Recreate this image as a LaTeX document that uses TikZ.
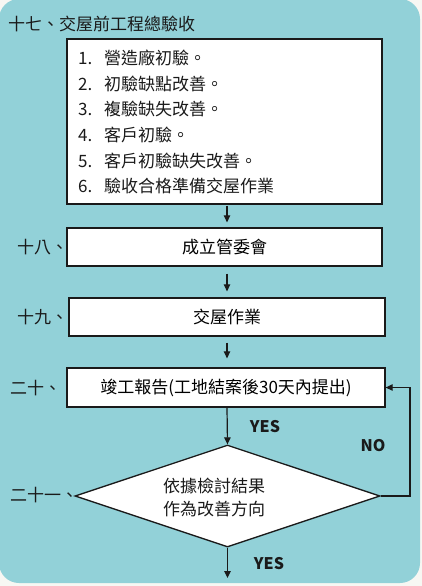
\documentclass[tikz,border=0pt]{standalone}
\usepackage{fontspec}
\setmainfont{Noto Sans CJK TC}
\usetikzlibrary{arrows.meta,shapes.geometric}
\definecolor{bgteal}{HTML}{92D1D8}
\definecolor{pagebg}{HTML}{F7F7F3}
\definecolor{ink}{HTML}{1A1A1A}
\tikzset{
  box/.style={draw=ink, line width=1.3pt, fill=white, inner sep=0pt},
  txt/.style={inner sep=0pt, text=ink},
  arr/.style={draw=ink, line width=1.2pt, -{Triangle[length=7pt,width=6.5pt]}},
  yn/.style={inner sep=0pt, text=ink, font=\fontsize{16}{18}\selectfont\bfseries},
}
\begin{document}
\begin{tikzpicture}[x=1pt,y=-1pt,font=\fontsize{17}{20}\selectfont]
\useasboundingbox (0,0) rectangle (422,586);
\fill[pagebg] (0,0) rectangle (422,586);
\fill[bgteal, rounded corners=20pt] (-1,-1) rectangle (420,583);

% title
\node[txt, anchor=west] (t17) at (8,24) {十七、交屋前工程總驗收};

% box 1
\node[box, minimum width=315, minimum height=165] (b1) at (224.5,121.5) {};
\node[txt, anchor=west] (i1) at (78,58) {\makebox[26pt][l]{1.}營造廠初驗。};
\node[txt, anchor=west] (i2) at (78,83.5) {\makebox[26pt][l]{2.}初驗缺點改善。};
\node[txt, anchor=west] (i3) at (78,109) {\makebox[26pt][l]{3.}複驗缺失改善。};
\node[txt, anchor=west] (i4) at (78,135) {\makebox[26pt][l]{4.}客戶初驗。};
\node[txt, anchor=west] (i5) at (78,160.5) {\makebox[26pt][l]{5.}客戶初驗缺失改善。};
\node[txt, anchor=west] (i6) at (78,186) {\makebox[26pt][l]{6.}驗收合格準備交屋作業};

% box 2
\node[box, minimum width=315, minimum height=38] (b2) at (224.5,247) {成立管委會};
\node[txt, anchor=west] (l18) at (17,247) {十八、};

% box 3
\node[box, minimum width=316, minimum height=38] (b3) at (227,317) {交屋作業};
\node[txt, anchor=west] (l19) at (17,317) {十九、};

% box 4
\node[box, minimum width=318, minimum height=39] (b4) at (226,387.5) {竣工報告(工地結案後30天內提出)};
\node[txt, anchor=west] (l20) at (10,388) {二十、};

% diamond
\node[diamond, draw=ink, line width=1.3pt, fill=white, inner sep=0pt,
      minimum width=305, minimum height=102] (d) at (227.5,496) {};
\node[txt, align=center, font=\fontsize{17}{23}\selectfont] (dt) at (214,497) {依據檢討結果\\作為改善方向};
\node[txt, anchor=west] (l21) at (10,495) {二十一、};

% arrows
\draw[arr, shorten <=1pt, shorten >=5pt] ([xshift=2.5pt]b1.south) -- ([xshift=2.5pt]b2.north);
\draw[arr, shorten <=7pt, shorten >=6pt] ([xshift=2.5pt]b2.south) -- (b3.north);
\draw[arr, shorten <=6pt, shorten >=9pt] (b3.south) -- ([xshift=1pt]b4.north);
\draw[arr] ([xshift=1pt]b4.south) -- (d.north);
\coordinate (endp) at (227.5,578);
\draw[arr] (d.south) -- (endp);
\draw[arr] (d.east) -- (410,496) |- (b4.east);

\node[yn] (yes1) at (265,427) {YES};
\node[yn] (no) at (373,446) {NO};
\node[yn] (yes2) at (269,564) {YES};
\end{tikzpicture}
\end{document}
